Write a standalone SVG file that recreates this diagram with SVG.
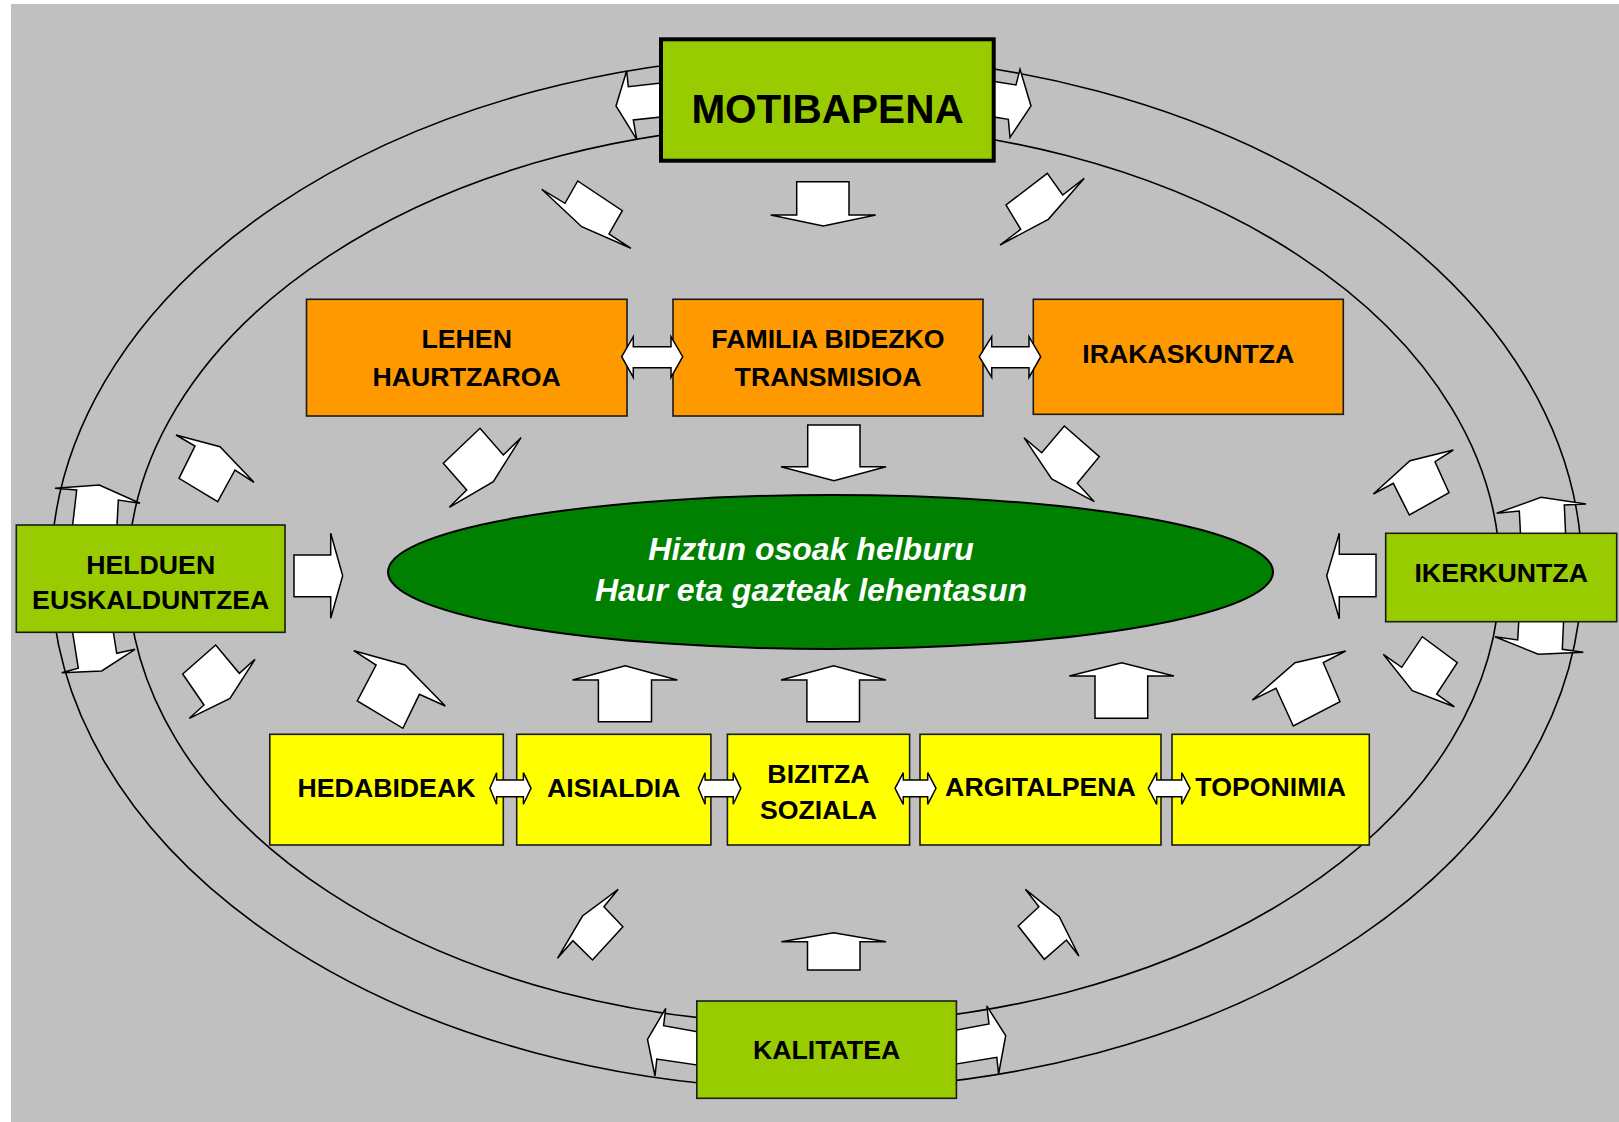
<svg xmlns="http://www.w3.org/2000/svg" width="1619" height="1122" viewBox="0 0 1619 1122">
<style>
.ring{fill:none;stroke:#000;stroke-width:1.6}
.arr{fill:#fff;stroke:#000;stroke-width:1.5;stroke-linejoin:miter}
.box{stroke:#1a1a1a;stroke-width:1.6}
.g{fill:#99CC00}
.o{fill:#FF9900}
.y{fill:#FFFF00}
.t{font-family:"Liberation Sans",Arial,sans-serif;font-weight:bold;font-size:26.7px;fill:#000;text-anchor:middle}
.c{font-family:"Liberation Sans",Arial,sans-serif;font-weight:bold;font-style:italic;font-size:32px;fill:#fff;text-anchor:middle}
</style>
<rect x="0" y="0" width="1619" height="1122" fill="#fff"/>
<rect x="11" y="4" width="1608" height="1118" fill="#C0C0C0"/>
<g id="rings">
<ellipse class="ring" cx="816.5" cy="572" rx="765.5" ry="517"/>
<ellipse class="ring" cx="814" cy="574" rx="686" ry="450"/>
</g>
<g id="connectors">
<polygon class="arr" points="670,82.1 628.3,86.7 626.7,70.7 616,106 636.7,139.3 633.3,120 670,116.1"/>
<polygon class="arr" points="985,80 1016,85 1020,69.3 1031,106 1010,137.3 1008.3,119.3 985,115.6"/>
<polygon class="arr" points="707,1033.5 663.6,1025.7 665.7,1008.3 647.5,1039.3 655,1076 656.8,1059 707,1066.5"/>
<polygon class="arr" points="946,1032 989,1024 986.8,1006 1005.7,1035.7 998.6,1074 996.8,1057.3 946,1065.7"/>
<polygon class="arr" points="55,488.3 99.3,485 140,503.3 118.3,500 116.5,535 71.5,535 76.7,490"/>
<polygon class="arr" points="71,622 78.3,668.3 61.7,672.7 101.7,671 135,649.3 116.7,653.3 111.7,622"/>
<polygon class="arr" points="1496.7,513.3 1541,497.3 1586,504 1564.3,505 1566,543 1521,543 1519.3,511"/>
<polygon class="arr" points="1519.3,612 1517.7,640 1495,636.7 1538.3,654.3 1583.3,652.3 1562.3,649.3 1564,612"/>
<polygon class="arr" points="796.7,181.7 849,181.7 849,215 875.7,215 823.3,226 770.7,215 796.7,215"/>
<polygon class="arr" points="541.7,189.3 581.7,226.7 631,248.3 609,234 622.3,210.7 577.7,181 565,203.3"/>
<polygon class="arr" points="1084.3,178.3 1048.3,219.3 1000,245 1020.7,229.3 1006,205 1047.3,173.3 1062.7,195"/>
<polygon class="arr" points="443.3,463.3 480,428.3 503.3,455 521,437.7 493.3,481.7 449.3,507.3 466.7,490"/>
<polygon class="arr" points="807.7,425 860,425 860,466.7 886,466.7 834,480.7 781,466.7 807.7,466.7"/>
<polygon class="arr" points="1024,437.7 1051.7,479 1094.3,501.7 1077.3,483.3 1099.3,456.7 1064.3,426 1041.7,452.7"/>
<polygon class="arr" points="176,435 220,446.7 254,482.3 235,470 217.7,501.7 179,478.3 195,446"/>
<polygon class="arr" points="294,555 330.7,555 330.7,533.3 342.7,575.7 330.7,618.3 330.7,596.7 294,596.7"/>
<polygon class="arr" points="182.7,674 215.7,645 239.3,673.3 255,659.3 230,698.3 189.3,718.3 204,705"/>
<polygon class="arr" points="1373.3,494 1410,460.7 1453.3,450 1435,461.7 1449,492.7 1409.3,515 1393.3,483.3"/>
<polygon class="arr" points="1376,554.3 1339.3,554.3 1339.3,533.3 1326.7,575.7 1339.3,618.7 1339.3,596.7 1376,596.7"/>
<polygon class="arr" points="1383.3,654.3 1412.3,690.7 1454.3,706.7 1436.7,694 1457.3,662.7 1422.3,636.7 1401.7,667.3"/>
<polygon class="arr" points="353.8,650.7 405.1,665 445.3,706 419.4,694.3 402.9,728.3 357.3,701 376.1,665"/>
<polygon class="arr" points="598.4,721.7 598.4,680 572.5,680 625.2,665.7 677.4,680 651.5,680 651.5,721.7"/>
<polygon class="arr" points="806.9,721.7 806.9,680 781,680 833.7,665.7 885.9,680 859.5,680 859.5,721.7"/>
<polygon class="arr" points="1095,718.3 1095,676 1069.3,676 1121.7,662.7 1174,676 1147.7,676 1147.7,718.3"/>
<polygon class="arr" points="1252.3,700 1295,662.7 1345.7,651 1323.3,662.7 1340,701.7 1293.3,726 1276,688.3"/>
<polygon class="arr" points="807.5,970 807.5,941.7 781.4,941.7 833.6,932.7 886.1,941.7 860,941.7 860,970"/>
<polygon class="arr" points="557.5,958.3 582.5,916 618.2,889.3 603.9,906.7 622.9,926.7 592.5,960 572.9,940.7"/>
<polygon class="arr" points="1025.4,889.3 1059.3,916.7 1078.9,956 1066.4,940 1044.3,959.3 1018.2,926 1038.9,906.7"/>
</g>
<g id="motibapena">
<rect x="661" y="39.3" width="332.7" height="121.4" fill="#99CC00" stroke="#000" stroke-width="4"/>
<text class="t" x="827.5" y="122.7" style="font-size:40.5px">MOTIBAPENA</text>
</g>
<g id="lehen-haurtzaroa">
<rect class="box o" x="306.5" y="299.3" width="320.5" height="116.7"/>
<text class="t" x="466.7" y="348.3">LEHEN</text>
<text class="t" x="466.7" y="385.7">HAURTZAROA</text>
</g>
<g id="familia">
<rect class="box o" x="673" y="299.3" width="310" height="116.7"/>
<text class="t" x="828" y="348.3">FAMILIA BIDEZKO</text>
<text class="t" x="828" y="385.7">TRANSMISIOA</text>
</g>
<g id="irakaskuntza">
<rect class="box o" x="1033.3" y="299.3" width="310" height="115"/>
<text class="t" x="1188.3" y="362.7">IRAKASKUNTZA</text>
</g>
<g id="helduen">
<rect class="box g" x="16.3" y="525" width="268.7" height="107.3"/>
<text class="t" x="150.7" y="574.3">HELDUEN</text>
<text class="t" x="150.7" y="609.3">EUSKALDUNTZEA</text>
</g>
<g id="ikerkuntza">
<rect class="box g" x="1385.7" y="533.3" width="231" height="88.4"/>
<text class="t" x="1501.2" y="582.3">IKERKUNTZA</text>
</g>
<g id="helburu">
<ellipse cx="830.5" cy="572" rx="442.5" ry="77" fill="#008000" stroke="#000" stroke-width="2"/>
<text class="c" x="811" y="560">Hiztun osoak helburu</text>
<text class="c" x="811" y="601">Haur eta gazteak lehentasun</text>
</g>
<g id="hedabideak">
<rect class="box y" x="269.8" y="734.3" width="233.5" height="110.7"/>
<text class="t" x="386.5" y="796.7">HEDABIDEAK</text>
</g>
<g id="aisialdia">
<rect class="box y" x="516.7" y="734.3" width="194.2" height="110.7"/>
<text class="t" x="613.8" y="796.7">AISIALDIA</text>
</g>
<g id="bizitza">
<rect class="box y" x="727.4" y="734.3" width="182.2" height="110.7"/>
<text class="t" x="818.5" y="782.7">BIZITZA</text>
<text class="t" x="818.5" y="819.3">SOZIALA</text>
</g>
<g id="argitalpena">
<rect class="box y" x="920" y="734.3" width="241" height="110.7"/>
<text class="t" x="1040.5" y="796">ARGITALPENA</text>
</g>
<g id="toponimia">
<rect class="box y" x="1172" y="734.3" width="197.3" height="110.7"/>
<text class="t" x="1270.7" y="796">TOPONIMIA</text>
</g>
<g id="kalitatea">
<rect class="box g" x="696.8" y="1001" width="259.6" height="97.3"/>
<text class="t" x="826.6" y="1059.3">KALITATEA</text>
</g>
<g id="connectors-double">
<polygon class="arr" points="621.7,356.7 633.3,336.7 633.3,346.7 671,346.7 671,336.7 682.7,356.7 671,377.3 671,367.7 633.3,367.7 633.3,377.3"/>
<polygon class="arr" points="979.3,356.7 991.7,336.7 991.7,346.7 1029,346.7 1029,336.7 1040.7,356.7 1029,377.3 1029,367.7 991.7,367.7 991.7,377.3"/>
<polygon class="arr" points="489.9,788.3 496.6,772.7 496.6,780 523.4,780 523.4,772.7 531,788.3 523.4,804.3 523.4,796.7 496.6,796.7 496.6,804.3"/>
<polygon class="arr" points="698.4,788.3 705.1,772.7 705.1,780 733.2,780 733.2,772.7 740.8,788.3 733.2,804.3 733.2,796.7 705.1,796.7 705.1,804.3"/>
<polygon class="arr" points="895,788.3 903.3,772.7 903.3,780 927.7,780 927.7,772.7 936,788.3 927.7,804.3 927.7,796.7 903.3,796.7 903.3,804.3"/>
<polygon class="arr" points="1148.3,788.3 1156.7,772.7 1156.7,780 1181.7,780 1181.7,772.7 1190,788.3 1181.7,804.3 1181.7,796.7 1156.7,796.7 1156.7,804.3"/>
</g>
</svg>
